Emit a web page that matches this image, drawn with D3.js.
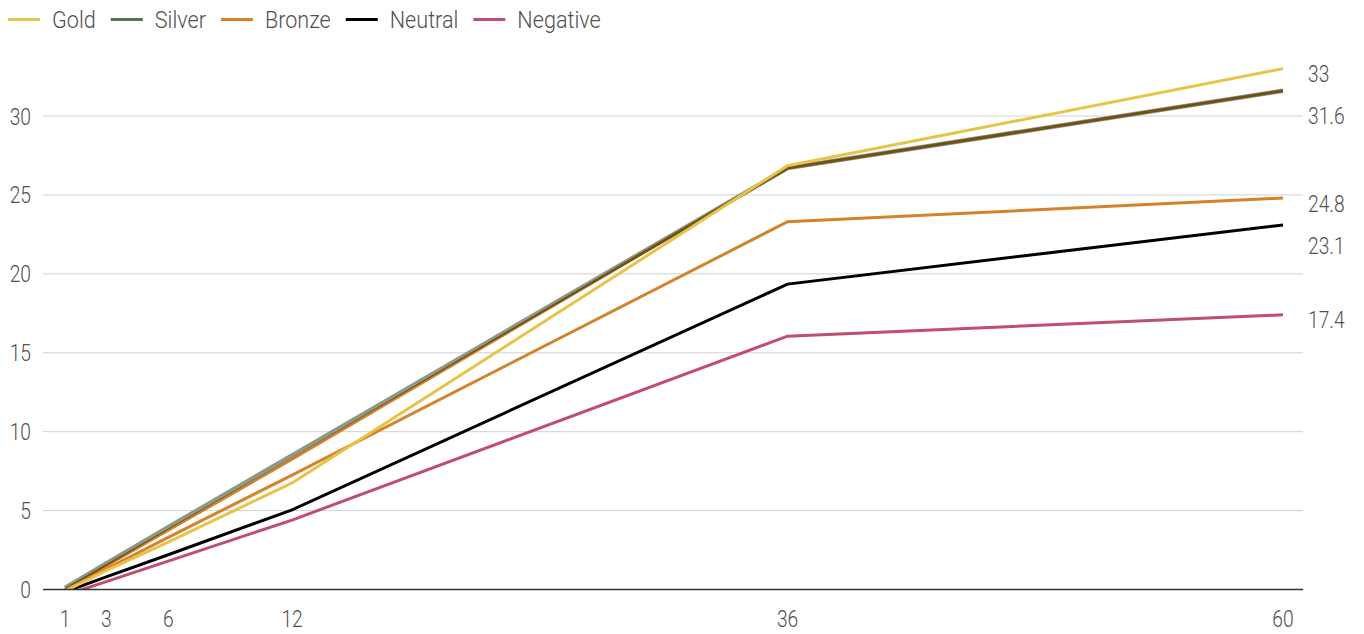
<!DOCTYPE html>
<html>
<head>
<meta charset="utf-8">
<script src="https://cdn.jsdelivr.net/npm/d3@7"></script>
<style>
  html, body { margin: 0; padding: 0; background: #fff; }
  svg { display: block; font-family: Roboto, "Noto Sans", sans-serif; font-weight: 300; }
  .silver { mix-blend-mode: multiply; }
</style>
</head>
<body>
<svg id="chart" width="1364" height="634"></svg>
<script>
// Holding period in months
const months = [1, 3, 6, 12, 36, 60];

// Cumulative values by rating group
const gold      = [-0.1, 1.2, 3.0, 6.75, 26.85, 33.0];
const silver    = [0.1, 1.65, 3.95, 8.5, 26.7, 31.6];
const bronze    = [-0.05, 1.3, 3.3, 7.25, 23.3, 24.8];
const neutral   = [-0.15, 0.8, 2.2, 5.05, 19.35, 23.1];
const negative  = [-0.35, 0.5, 1.8, 4.4, 16.05, 17.4];
// Unlabelled companion trace drawn under Silver in the bronze colour
const silverBase = [0.0, 1.5, 3.75, 8.25, 26.7, 31.6];

const seriesNames = ["Gold", "Silver", "Bronze", "Neutral", "Negative"];
const yTicks = [0, 5, 10, 15, 20, 25, 30];

const colors = {
  Gold: "#e8c34a",
  Silver: "#5a6e52",
  Bronze: "#d4832a",
  Neutral: "#000000",
  Negative: "#c04f6c"
};

const svg = d3.select("#chart");
const textColor = "#505050";
const fontSize = 24;
const squeeze = 0.8;   // condensed look

const x = d3.scaleLinear().domain([1, 60]).range([65, 1283]);
const y = d3.scaleLinear().domain([0, 30]).range([589.5, 116]);

// Horizontal grid
svg.append("g")
  .selectAll("line")
  .data(yTicks.filter(d => d !== 0))
  .join("line")
  .attr("x1", 43).attr("x2", 1303)
  .attr("y1", d => y(d)).attr("y2", d => y(d))
  .attr("stroke", "#d2d2d2").attr("stroke-width", 1);

// Helper for condensed text
function ctext(sel, tx, ty, anchor, sx = squeeze) {
  return sel.append("text")
    .attr("transform", `translate(${tx},${ty}) scale(${sx},1)`)
    .attr("text-anchor", anchor)
    .attr("font-size", fontSize)
    .attr("fill", textColor);
}

// Y tick labels
const yAxis = svg.append("g");
yTicks.forEach(t => {
  ctext(yAxis, 31, y(t) + 8.5, "end").text(t);
});

// X tick labels
const xAxis = svg.append("g");
months.forEach(m => {
  ctext(xAxis, x(m), 627, "middle").text(m);
});

// Clip lines at the zero baseline
svg.append("clipPath").attr("id", "plotClip")
  .append("rect").attr("x", 0).attr("y", 0).attr("width", 1364).attr("height", y(0));

const line = d3.line().x((d, i) => x(months[i])).y(d => y(d));

const plot = svg.append("g").attr("clip-path", "url(#plotClip)").style("isolation", "isolate");

plot.append("path").datum(silverBase)
  .attr("d", line).attr("fill", "none")
  .attr("stroke", colors.Bronze).attr("stroke-width", 3);

plot.append("path").datum(silver).attr("class", "silver")
  .attr("d", line).attr("fill", "none")
  .attr("stroke", "#8b9986").attr("stroke-width", 4.5);

const drawOrder = [
  ["Bronze", bronze],
  ["Negative", negative],
  ["Neutral", neutral],
  ["Gold", gold]
];
drawOrder.forEach(([name, vals]) => {
  plot.append("path").datum(vals)
    .attr("d", line).attr("fill", "none")
    .attr("stroke", colors[name]).attr("stroke-width", 3)
    .attr("stroke-linejoin", "miter");
});

// Baseline
svg.append("line")
  .attr("x1", 43).attr("x2", 1303)
  .attr("y1", y(0)).attr("y2", y(0))
  .attr("stroke", "#333").attr("stroke-width", 1.5);

// End-of-line value labels, nudged apart so they never overlap
const endVals = [
  ["Gold", gold[5]], ["Silver", silver[5]], ["Bronze", bronze[5]],
  ["Neutral", neutral[5]], ["Negative", negative[5]]
].sort((a, b) => b[1] - a[1]);
const minGap = 42;
let prev = -Infinity;
const endLabels = svg.append("g");
endVals.forEach(([name, v]) => {
  let cy = y(v) + 5;
  if (cy - prev < minGap) cy = prev + minGap;
  prev = cy;
  ctext(endLabels, 1308, cy + 8.5, "start").text(d3.format("")(v));
});

// Legend
const legend = svg.append("g");
const legendSqueeze = 0.9;
let lx = 8;
seriesNames.forEach(name => {
  legend.append("line")
    .attr("x1", lx).attr("x2", lx + 32)
    .attr("y1", 19.5).attr("y2", 19.5)
    .attr("stroke", colors[name]).attr("stroke-width", 3);
  const t = ctext(legend, lx + 44, 28, "start", legendSqueeze).text(name);
  const w = t.node().getComputedTextLength() * legendSqueeze;
  lx += 44 + w + 15;
});
</script>
</body>
</html>
